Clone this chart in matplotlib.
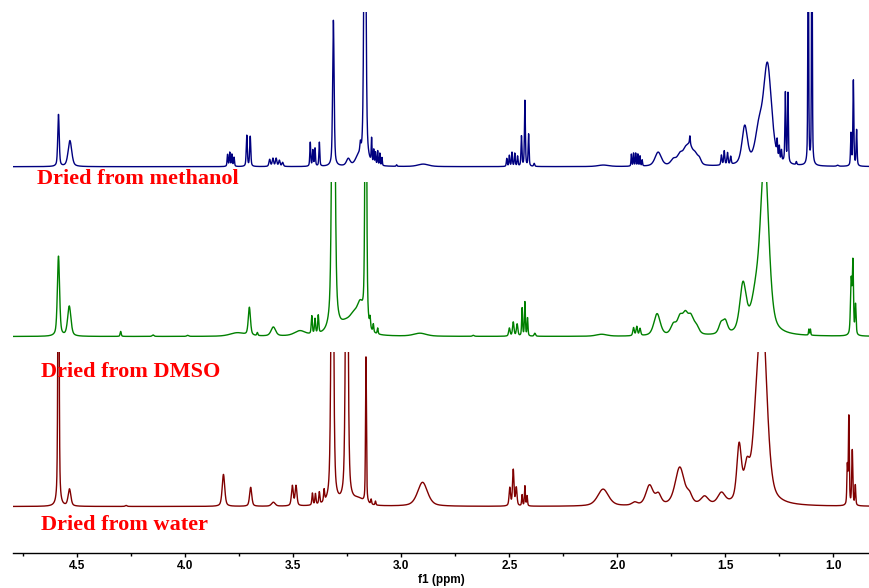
import numpy as np
import matplotlib
matplotlib.use('Agg')
import matplotlib.pyplot as plt
from matplotlib.ticker import MultipleLocator

## peak tables: shift (ppm), height (px above baseline), width (ppm)
meoh_pos = [4.588, 4.535, 3.805, 3.795, 3.785, 3.775, 3.716, 3.700, 3.61, 3.595, 3.58, 3.565, 3.55,
            3.422, 3.41, 3.40, 3.38, 3.315, 3.246, 3.20, 3.19, 3.169, 3.138, 3.128, 3.12, 3.11, 3.10, 3.09,
            3.022, 2.899, 2.512, 2.50, 2.488, 2.475, 2.462, 2.444, 2.428, 2.411, 2.385, 2.065,
            1.935, 1.925, 1.915, 1.905, 1.895, 1.885, 1.811, 1.74, 1.71, 1.685, 1.665, 1.664, 1.64, 1.62,
            1.518, 1.505, 1.49, 1.475, 1.41, 1.345, 1.305, 1.26, 1.25, 1.24, 1.222, 1.210, 1.171,
            1.116, 1.099, 0.98, 0.918, 0.907, 0.892]
meoh_h = [52, 26, 12, 14, 12, 9, 31, 30, 7, 8, 8, 6, 4,
          24, 16, 18, 24, 146, 7, 8, 10, 400, 24, 14, 12, 14, 12, 8,
          1.5, 2.5, 8, 11, 14, 13, 10, 30, 66, 32, 3, 1.5,
          12, 13, 13, 12, 10, 6, 14, 6, 10, 12, 16, 8, 10, 5,
          10, 14, 12, 8, 38, 30, 100, 14, 12, 10, 70, 70, 3,
          300, 300, 1, 32, 86, 36]
meoh_w = [0.008, 0.02, 0.005, 0.005, 0.005, 0.005, 0.006, 0.006, 0.008, 0.008, 0.008, 0.008, 0.008,
          0.005, 0.005, 0.005, 0.005, 0.008, 0.02, 0.03, 0.006, 0.01, 0.004, 0.004, 0.004, 0.004, 0.004, 0.004,
          0.005, 0.06, 0.005, 0.005, 0.005, 0.005, 0.005, 0.005, 0.005, 0.005, 0.006, 0.06,
          0.004, 0.004, 0.004, 0.004, 0.004, 0.004, 0.035, 0.03, 0.03, 0.03, 0.03, 0.004, 0.03, 0.02,
          0.006, 0.006, 0.006, 0.006, 0.03, 0.04, 0.045, 0.004, 0.004, 0.004, 0.005, 0.005, 0.005,
          0.004, 0.004, 0.01, 0.005, 0.005, 0.005]

dmso_pos = [4.588, 4.538, 4.30, 4.15, 3.99, 3.76, 3.704, 3.667, 3.593, 3.47, 3.415, 3.40, 3.385,
            3.315, 3.26, 3.22, 3.19, 3.165, 3.145, 3.13, 3.11, 2.914, 2.667,
            2.50, 2.482, 2.464, 2.441, 2.428, 2.416, 2.382, 2.073, 1.925, 1.91, 1.895, 1.816,
            1.74, 1.71, 1.685, 1.66, 1.635, 1.52, 1.50, 1.418, 1.36, 1.318, 1.113, 1.106,
            0.917, 0.909, 0.897]
dmso_h = [80, 30, 5, 1.5, 1, 3.5, 28, 3, 9, 5, 18, 15, 18,
          500, 9, 16, 24, 400, 10, 8, 6, 3, 1,
          8, 14, 12, 28, 34, 18, 3, 2, 8, 9, 7, 22,
          10, 16, 18, 16, 8, 10, 12, 48, 30, 175, 6, 6,
          55, 70, 30]
dmso_w = [0.012, 0.018, 0.006, 0.01, 0.01, 0.08, 0.012, 0.006, 0.025, 0.06, 0.006, 0.006, 0.006,
          0.014, 0.06, 0.05, 0.035, 0.008, 0.005, 0.005, 0.005, 0.07, 0.01,
          0.008, 0.008, 0.008, 0.005, 0.005, 0.005, 0.008, 0.06, 0.008, 0.008, 0.008, 0.035,
          0.03, 0.03, 0.03, 0.03, 0.03, 0.025, 0.025, 0.035, 0.05, 0.045, 0.004, 0.004,
          0.008, 0.006, 0.006]

water_pos = [4.588, 4.537, 4.275, 3.824, 3.698, 3.593, 3.505, 3.488, 3.412, 3.398, 3.38, 3.358,
             3.32, 3.253, 3.20, 3.164, 3.14, 3.12, 2.902,
             2.498, 2.482, 2.468, 2.441, 2.428, 2.418, 2.066, 1.92, 1.851, 1.81, 1.711, 1.666,
             1.596, 1.518, 1.436, 1.40, 1.36, 1.329, 0.935, 0.928, 0.912, 0.898]
water_h = [400, 17, 1, 32, 19, 4, 20, 20, 12, 11, 12, 12,
           400, 400, 6, 146, 5, 4, 24,
           18, 36, 18, 11, 20, 10, 17, 3, 20, 10, 38, 8,
           8, 11, 55, 30, 40, 190, 38, 88, 55, 20]
water_w = [0.006, 0.015, 0.01, 0.014, 0.012, 0.02, 0.01, 0.01, 0.006, 0.006, 0.006, 0.006,
           0.012, 0.012, 0.06, 0.005, 0.005, 0.005, 0.055,
           0.008, 0.008, 0.008, 0.005, 0.005, 0.005, 0.06, 0.03, 0.04, 0.03, 0.05, 0.03,
           0.04, 0.04, 0.025, 0.03, 0.04, 0.05, 0.005, 0.005, 0.006, 0.005]

labels = ['Dried from methanol', 'Dried from DMSO', 'Dried from water']
colors = ['#000080', '#008000', '#800000']

xmin, xmax = 4.80, 0.83
ppm = np.linspace(xmin, xmax, 6000)
eta = 0.5   # lorentzian share of the line shape


def spectrum(pos, h, w):
    y = np.zeros_like(ppm)
    for p0, h0, w0 in zip(pos, h, w):
        g = w0 / 2.0
        lor = g**2 / ((ppm - p0)**2 + g**2)
        gau = np.exp(-4 * np.log(2) * (ppm - p0)**2 / w0**2)
        y += h0 * (eta * lor + (1 - eta) * gau)
    return y


W, H = 870, 588
fig = plt.figure(figsize=(W / 100, H / 100), dpi=100)

# (clip top, baseline, axes bottom) in pixels from the top of the figure
rows = [(12.3, 166.7, 176), (182.3, 336.5, 346), (352.3, 506.5, 553)]
data = [(meoh_pos, meoh_h, meoh_w), (dmso_pos, dmso_h, dmso_w), (water_pos, water_h, water_w)]

axes = []
for (top, base, bot), (pos, h, w), c in zip(rows, data, colors):
    ax = fig.add_axes([12.7 / W, 1 - bot / H, (W - 12.7) / W, (bot - top) / H])
    ax.plot(ppm, spectrum(pos, h, w), color=c, lw=1.0)
    ax.set_xlim(xmin, xmax)
    ax.set_ylim(-(bot - base), base - top)
    ax.patch.set_visible(False)
    for s in ['top', 'left', 'right', 'bottom']:
        ax.spines[s].set_visible(False)
    ax.set_yticks([])
    ax.set_xticks([])
    axes.append(ax)

ax = axes[-1]
ax.spines['bottom'].set_visible(True)
ax.spines['bottom'].set_linewidth(1.0)
ax.xaxis.set_major_locator(MultipleLocator(0.5))
ax.xaxis.set_minor_locator(MultipleLocator(0.25))
ax.tick_params(axis='x', which='major', direction='out', length=3, width=1, pad=2)
ax.tick_params(axis='x', which='minor', direction='out', length=2, width=1)
for t in ax.get_xticklabels():
    t.set_fontweight('bold')
    t.set_fontsize(8.5)
    t.set_family('Liberation Sans')
ax.set_xlabel('f1 (ppm)', fontsize=8.5, fontweight='bold', family='Liberation Sans', labelpad=1.5)

text_pos = [(37, 184), (40.7, 376.7), (40.7, 530)]
for (tx, ty), lab in zip(text_pos, labels):
    fig.text(tx / W, 1 - ty / H, lab, color='#FF0000', fontsize=16, fontweight='bold',
             family='Liberation Serif', va='baseline', ha='left')

fig.savefig('out.png', dpi=100)
